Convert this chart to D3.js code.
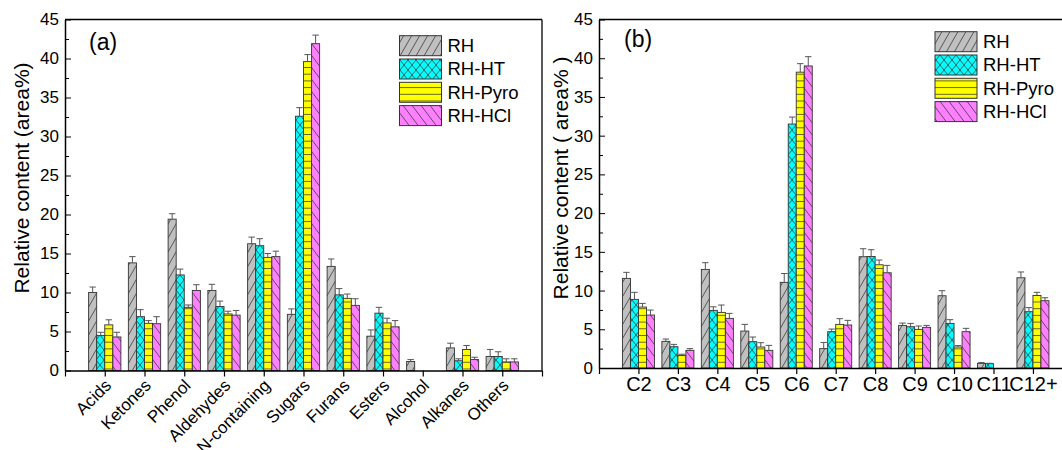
<!DOCTYPE html>
<html>
<head>
<meta charset="utf-8">
<script src="https://cdn.jsdelivr.net/npm/d3@7"></script>
<style>
  body { margin: 0; background: #fff; }
  svg { font-family: "Liberation Sans", Arial, sans-serif; }
</style>
</head>
<body>
<svg id="chart" width="1062" height="450"></svg>
<script>
const series = ['RH', 'RH-HT', 'RH-Pyro', 'RH-HCl'];

// panel (a): chemical groups
const catsA = ['Acids', 'Ketones', 'Phenol', 'Aldehydes', 'N-containing', 'Sugars', 'Furans', 'Esters', 'Alcohol', 'Alkanes', 'Others'];
const rhA   = [10.0, 13.8, 19.4, 10.25, 16.25, 7.2, 13.35, 4.4, 1.15, 2.9, 1.8];
const htA   = [4.5, 6.9, 12.25, 8.2, 16.0, 32.6, 9.7, 7.35, 0, 1.25, 1.8];
const pyroA = [5.85, 6.05, 8.1, 7.25, 14.5, 39.6, 9.25, 6.1, 0, 2.7, 1.1];
const hclA  = [4.3, 6.0, 10.25, 7.1, 14.6, 41.9, 8.35, 5.6, 0, 1.4, 1.1];
const rhErrA   = [0.7, 0.8, 0.7, 0.8, 0.85, 0.7, 0.95, 0.8, 0.25, 0.6, 0.9];
const htErrA   = [0.4, 0.9, 0.75, 0.7, 0.9, 1.1, 0.8, 0.75, 0, 0.25, 0.6];
const pyroErrA = [0.65, 0.35, 0.3, 0.35, 0.5, 0.9, 0.55, 0.6, 0, 0.5, 0.4];
const hclErrA  = [0.6, 0.9, 0.75, 0.6, 0.7, 1.1, 0.85, 0.8, 0, 0.3, 0.4];

// panel (b): carbon number
const catsB = ['C2', 'C3', 'C4', 'C5', 'C6', 'C7', 'C8', 'C9', 'C10', 'C11', 'C12+'];
const rhB   = [11.57, 3.44, 12.73, 4.77, 11.06, 2.5, 14.37, 5.5, 9.33, 0.6, 11.65];
const htB   = [8.86, 2.75, 7.44, 3.4, 31.5, 4.69, 14.4, 5.33, 5.76, 0.56, 7.27];
const pyroB = [7.87, 1.63, 7.18, 2.71, 38.2, 5.63, 13.33, 4.99, 2.71, 0, 9.37];
const hclB  = [6.84, 2.28, 6.41, 2.28, 39.0, 5.55, 12.3, 5.25, 4.69, 0, 8.69];
const rhErrB   = [0.78, 0.3, 0.87, 0.86, 1.14, 0.8, 1.03, 0.3, 0.65, 0.1, 0.75];
const htErrB   = [0.91, 0.3, 0.46, 0.6, 0.9, 0.34, 0.87, 0.43, 0.48, 0.05, 0.53];
const pyroErrB = [0.47, 0.15, 0.95, 0.56, 1.1, 0.74, 0.61, 0.43, 0.19, 0, 0.4];
const hclErrB  = [0.64, 0.22, 0.64, 0.64, 1.2, 0.6, 0.95, 0.25, 0.43, 0, 0.38];

const yTicks = [0, 5, 10, 15, 20, 25, 30, 35, 40, 45];
const yMinor = [2.5, 7.5, 12.5, 17.5, 22.5, 27.5, 32.5, 37.5, 42.5];

const fills = ['#c0c0c0', '#00ffff', '#ffff00', '#ff80ff'];
const hatch = '#3a3a3a';

const svg = d3.select('#chart');
const defs = svg.append('defs');

// hatch patterns, one per series
function pattern(id, w, h, bg, d) {
    const p = defs.append('pattern')
        .attr('id', id)
        .attr('patternUnits', 'userSpaceOnUse')
        .attr('width', w)
        .attr('height', h);
    p.append('rect').attr('width', w).attr('height', h).attr('fill', bg);
    p.append('path').attr('d', d)
        .attr('stroke', hatch)
        .attr('stroke-width', 0.8)
        .attr('fill', 'none');
}
pattern('p0', 8, 14, fills[0], 'M-8,14L0,0M0,14L8,0M8,14L16,0');
pattern('p1', 8, 10, fills[1], 'M0,0L8,10M-8,0L0,10M8,0L16,10M0,10L8,0M-8,10L0,0M8,10L16,0');
pattern('p2', 10, 6.7, fills[2], 'M0,0.5L10,0.5');
pattern('p3', 9, 12, fills[3], 'M0,0L9,12M-9,0L0,12M9,0L18,12');

function drawPanel(cfg) {
    const x = d3.scaleLinear().domain([0, 12]).range([cfg.left, cfg.right]);
    const y = d3.scaleLinear().domain([0, 45]).range([cfg.bottom, cfg.top]);
    const bw = (x(1) - x(0)) * 0.203;
    const g = svg.append('g');

    // bars + error bars
    cfg.vals.forEach((vals, j) => {
        vals.forEach((v, i) => {
            if (v <= 0) return;
            const bx = x(i + 1) + (j - 2) * bw;
            const e = cfg.errs[j][i];
            g.append('rect')
                .attr('x', bx)
                .attr('y', y(v))
                .attr('width', bw)
                .attr('height', y(0) - y(v))
                .attr('fill', 'url(#p' + j + ')')
                .attr('stroke', '#333')
                .attr('stroke-width', 0.9);
            if (e > 0) {
                const cx = bx + bw / 2;
                g.append('line')
                    .attr('x1', cx).attr('x2', cx)
                    .attr('y1', y(v)).attr('y2', y(v + e))
                    .attr('stroke', '#555').attr('stroke-width', 1);
                g.append('line')
                    .attr('x1', cx - 3.2).attr('x2', cx + 3.2)
                    .attr('y1', y(v + e)).attr('y2', y(v + e))
                    .attr('stroke', '#555').attr('stroke-width', 1);
            }
        });
    });

    // frame lines
    g.append('line')
        .attr('x1', cfg.left).attr('x2', cfg.frameRight)
        .attr('y1', cfg.top).attr('y2', cfg.top)
        .attr('stroke', '#000').attr('stroke-width', 1.3);
    if (cfg.rightBorder) {
        g.append('line')
            .attr('x1', cfg.right).attr('x2', cfg.right)
            .attr('y1', cfg.top).attr('y2', cfg.bottom)
            .attr('stroke', '#000').attr('stroke-width', 1.3);
    }

    // y axis
    const yAxis = g.append('g')
        .attr('transform', `translate(${cfg.left},0)`)
        .call(d3.axisLeft(y).tickValues(yTicks).tickSizeInner(-6).tickSizeOuter(0).tickPadding(6));
    g.append('g')
        .attr('transform', `translate(${cfg.left},0)`)
        .call(d3.axisLeft(y).tickValues(yMinor).tickSizeInner(-4).tickSizeOuter(0).tickFormat(''))
        .call(a => a.select('.domain').remove());
    yAxis.selectAll('text').attr('font-size', 17).attr('font-family', null).attr('fill', '#000');
    yAxis.select('.domain').attr('stroke-width', 1.5);

    // x axis
    const xAxis = g.append('g')
        .attr('transform', `translate(0,${cfg.bottom})`)
        .call(d3.axisBottom(x).tickValues(d3.range(0, 13)).tickSizeInner(6).tickSizeOuter(0)
            .tickFormat(d => cfg.cats[d - 1] || ''));
    xAxis.select('.domain').attr('stroke-width', 1.5);
    xAxis.selectAll('line').attr('stroke-width', 1.2);
    const xt = xAxis.selectAll('text').attr('fill', '#000').attr('font-family', null);
    if (cfg.rotate) {
        xt.attr('font-size', 17)
            .attr('text-anchor', 'end')
            .attr('x', 0).attr('y', 0).attr('dy', 0)
            .attr('transform', 'translate(7,16) rotate(-45)');
    } else {
        xt.attr('font-size', 20).attr('y', 9);
    }

    // axis title and panel tag
    g.append('text')
        .attr('transform', `translate(${cfg.titleX},178) rotate(-90)`)
        .attr('text-anchor', 'middle')
        .attr('dy', '0.35em')
        .attr('font-size', 21)
        .text(cfg.title);
    g.append('text')
        .attr('x', cfg.tagX).attr('y', cfg.tagY)
        .attr('font-size', 23)
        .text(cfg.tag);

    // legend
    const leg = g.append('g');
    series.forEach((s, j) => {
        const ly = cfg.legY + j * 23.3;
        leg.append('rect')
            .attr('x', cfg.legX).attr('y', ly)
            .attr('width', 42).attr('height', 20)
            .attr('fill', 'url(#p' + j + ')')
            .attr('stroke', '#333').attr('stroke-width', 1);
        leg.append('text')
            .attr('x', cfg.legX + 48).attr('y', ly + 10)
            .attr('dy', '0.35em')
            .attr('font-size', 18.5)
            .text(s);
    });
}

drawPanel({
    left: 65, right: 542, frameRight: 542, top: 19.5, bottom: 370.5, rightBorder: true,
    cats: catsA,
    vals: [rhA, htA, pyroA, hclA],
    errs: [rhErrA, htErrA, pyroErrA, hclErrA],
    rotate: true,
    title: 'Relative content (area%)', titleX: 22,
    tag: '(a)', tagX: 89, tagY: 50,
    legX: 399.5, legY: 35.7
});

drawPanel({
    left: 599, right: 1072.4, frameRight: 1062, top: 19.5, bottom: 368, rightBorder: false,
    cats: catsB,
    vals: [rhB, htB, pyroB, hclB],
    errs: [rhErrB, htErrB, pyroErrB, hclErrB],
    rotate: false,
    title: 'Relative content ( area% )', titleX: 561,
    tag: '(b)', tagX: 624, tagY: 47,
    legX: 935, legY: 31.7
});
</script>
</body>
</html>
